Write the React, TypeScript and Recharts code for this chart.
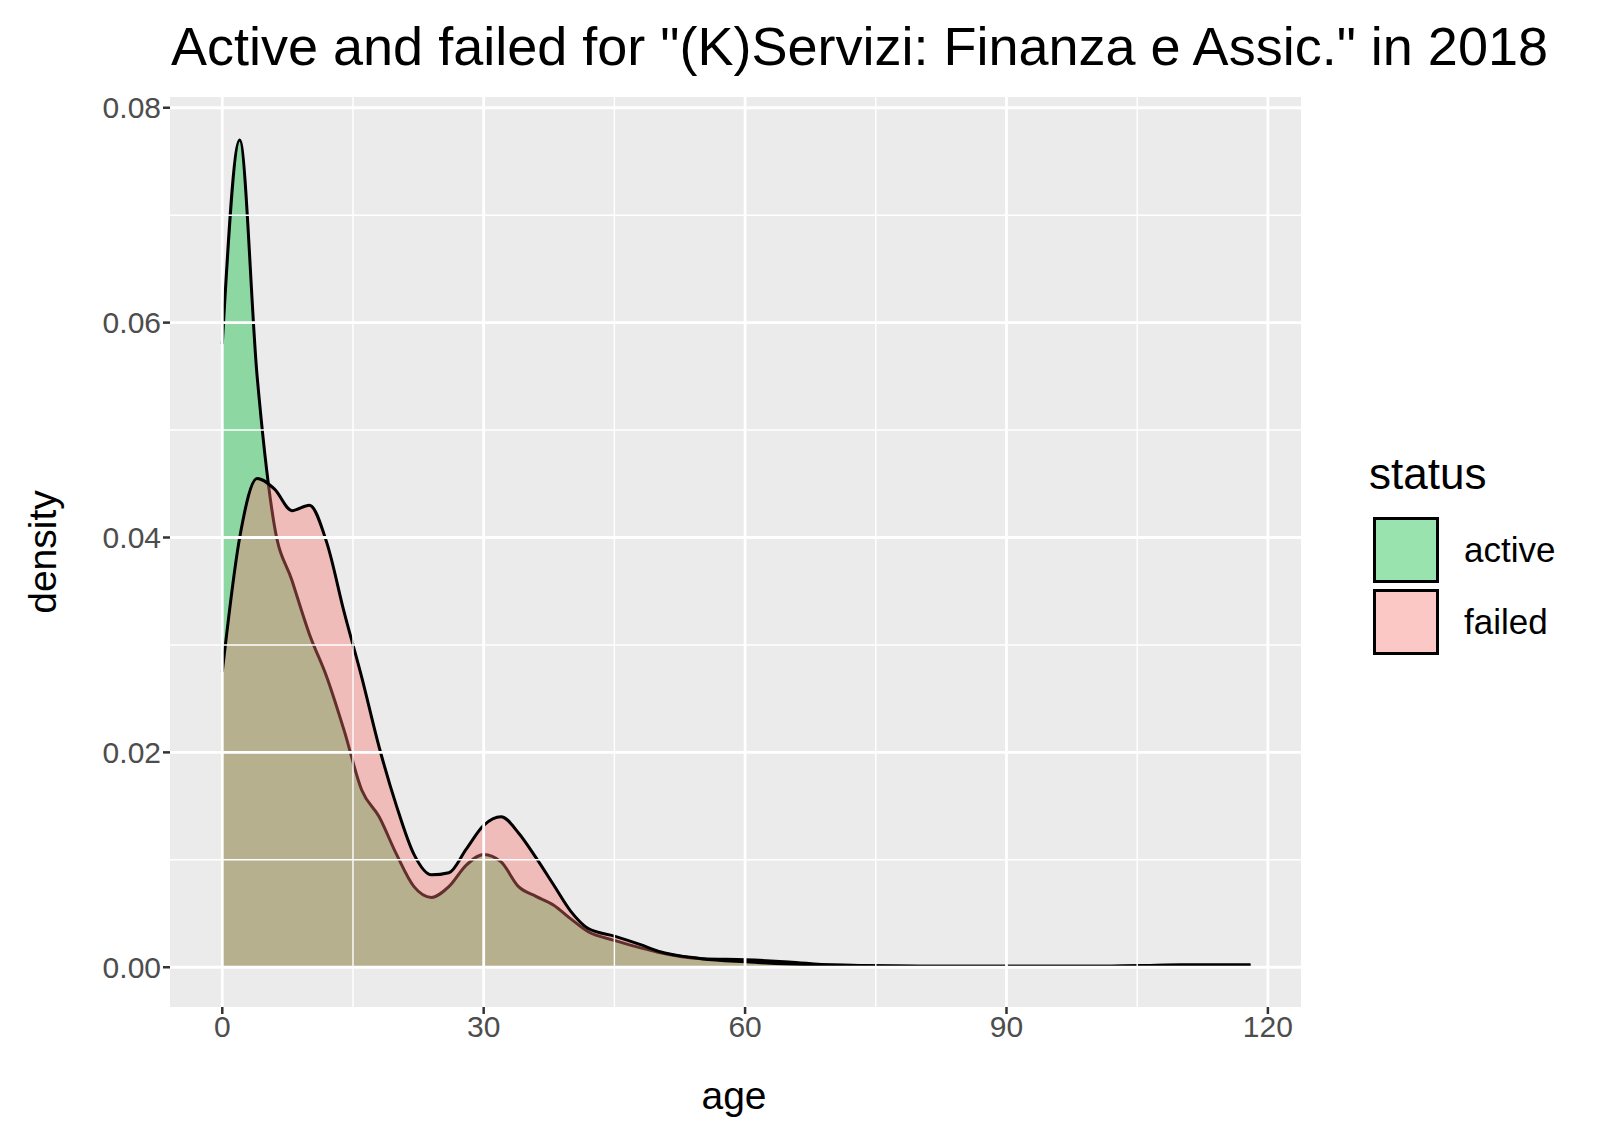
import React from "react";
import { ComposedChart, Area, XAxis, YAxis, ReferenceLine, ReferenceArea } from "recharts";

const ages = [0, 2, 4, 6, 8, 10, 12, 14, 16, 18, 20, 22, 24, 26, 28, 30, 32, 34, 36, 38, 40, 42, 45, 48, 50, 55, 60, 65, 70, 80, 90, 100, 110, 118];
const active = [0.058, 0.077, 0.055, 0.041, 0.036, 0.031, 0.027, 0.022, 0.0165, 0.014, 0.0105, 0.0075, 0.0065, 0.0075, 0.0095, 0.0105, 0.0098, 0.0075, 0.0066, 0.0058, 0.0045, 0.0033, 0.0025, 0.0018, 0.0014, 0.0008, 0.0007, 0.0005, 0.0002, 0.0001, 0.0001, 0.0001, 0.0002, 0.0002];
const failed = [0.0275, 0.04, 0.0455, 0.0445, 0.0425, 0.043, 0.0395, 0.033, 0.027, 0.0205, 0.015, 0.0105, 0.0086, 0.0088, 0.011, 0.0132, 0.014, 0.0125, 0.0102, 0.0077, 0.0052, 0.0036, 0.0029, 0.0021, 0.0015, 0.0008, 0.0005, 0.0003, 0.0002, 0.0001, 0.0001, 0.0001, 0.0002, 0.0002];
const xTicks = [0, 30, 60, 90, 120];
const xMinor = [15, 45, 75, 105];
const yTicks = [0, 0.02, 0.04, 0.06, 0.08];
const yMinor = [0.01, 0.03, 0.05, 0.07];

const data = ages.map((age, i) => ({ age, active: active[i], failed: failed[i] }));
const FONT = "'Liberation Sans', Arial, sans-serif";

export default function App() {
  return (
    <div style={{ position: "absolute", left: 0, top: 0, width: 1603, height: 1143, background: "#fff", fontFamily: FONT }}>
      <div style={{ position: "absolute", left: 171, top: 14, fontSize: 54, lineHeight: "64px", color: "#000", whiteSpace: "nowrap" }}>
        Active and failed for "(K)Servizi: Finanza e Assic." in 2018
      </div>
      <ComposedChart width={1603} height={1143} data={data} margin={{ top: 97, right: 302, left: 80, bottom: 66 }}>
        <ReferenceArea x1={-6} x2={123.8} y1={-0.0037} y2={0.081} fill="#EBEBEB" fillOpacity={1} stroke="none" ifOverflow="hidden" />
        {xMinor.map((v) => <ReferenceLine key={"xm" + v} x={v} stroke="#fff" strokeWidth={1.4} />)}
        {yMinor.map((v) => <ReferenceLine key={"ym" + v} y={v} stroke="#fff" strokeWidth={1.4} />)}
        {xTicks.map((v) => <ReferenceLine key={"x" + v} x={v} stroke="#fff" strokeWidth={2.8} />)}
        {yTicks.map((v) => <ReferenceLine key={"y" + v} y={v} stroke="#fff" strokeWidth={2.8} />)}
        <XAxis dataKey="age" type="number" domain={[-6, 123.8]} ticks={xTicks} allowDataOverflow axisLine={false}
          tickSize={7} tickLine={{ stroke: "#333", strokeWidth: 2.5 }} height={70}
          tick={{ fontSize: 30, fill: "#4D4D4D", fontFamily: FONT }} />
        <YAxis type="number" domain={[-0.0037, 0.081]} ticks={yTicks} allowDataOverflow axisLine={false}
          tickSize={7} tickLine={{ stroke: "#333", strokeWidth: 2.5 }} width={90}
          tickFormatter={(v: number) => v.toFixed(2)}
          tick={{ fontSize: 30, fill: "#4D4D4D", fontFamily: FONT }} />
        <Area type="monotone" dataKey="active" baseValue={0} fill="#00BA38" fillOpacity={0.4} stroke="#000" strokeWidth={3} isAnimationActive={false} />
        <Area type="monotone" dataKey="failed" baseValue={0} fill="#F8766D" fillOpacity={0.4} stroke="#000" strokeWidth={3} isAnimationActive={false} />
      </ComposedChart>
      <div style={{ position: "absolute", left: 634, width: 200, textAlign: "center", top: 1073, fontSize: 39, lineHeight: "46px" }}>age</div>
      <div style={{ position: "absolute", left: 43, top: 552, fontSize: 39, lineHeight: "46px", transform: "translate(-50%,-50%) rotate(-90deg)", whiteSpace: "nowrap" }}>density</div>
      <div style={{ position: "absolute", left: 1369, top: 449, fontSize: 44, lineHeight: "50px" }}>status</div>
      {[{ n: "active", c: "rgba(0,186,56,0.4)" }, { n: "failed", c: "rgba(248,118,109,0.4)" }].map((k, i) => (
        <div key={k.n}>
          <div style={{ position: "absolute", left: 1373, top: 517 + i * 72, width: 66, height: 66, border: "3px solid #000", background: k.c, boxSizing: "border-box" }} />
          <div style={{ position: "absolute", left: 1464, top: 530 + i * 72, fontSize: 35, lineHeight: "40px" }}>{k.n}</div>
        </div>
      ))}
    </div>
  );
}
